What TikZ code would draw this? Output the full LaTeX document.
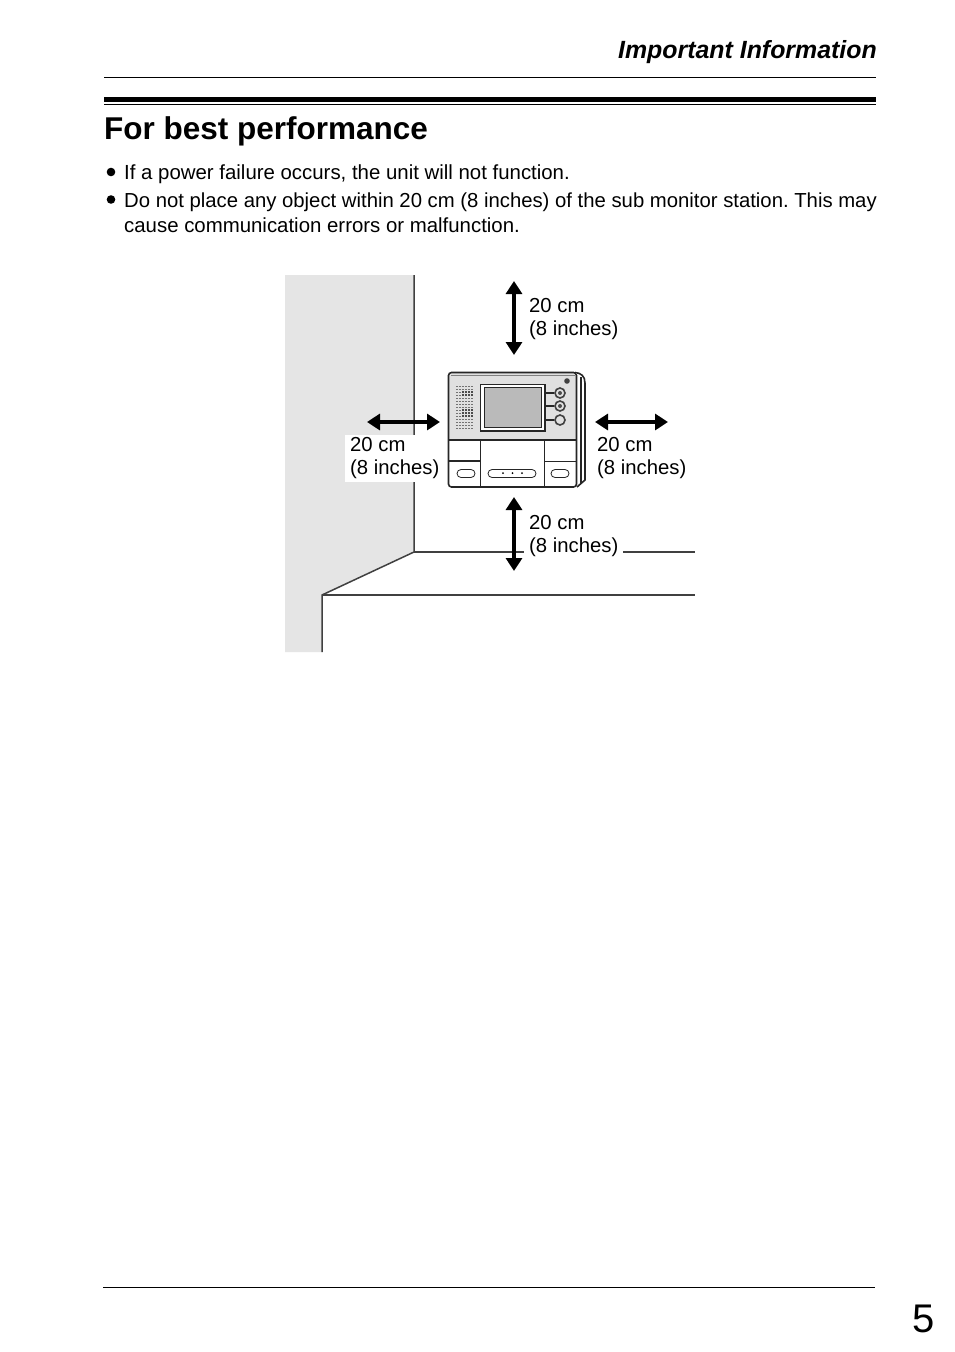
\documentclass[tikz,border=0pt]{standalone}
\usepackage{fontspec}
\setmainfont{Liberation Sans}
\usetikzlibrary{arrows.meta}
\begin{document}
\frenchspacing
\begin{tikzpicture}
	[x=1pt,y=-1pt,
	 bodytext/.style={anchor=base west,inner sep=0pt,font=\fontsize{20.4}{23}\selectfont},
	 dimlabel/.style={anchor=north west,inner sep=0pt,align=left,font=\fontsize{20.3}{23}\selectfont},
	 dimarrow/.style={line width=3.2pt,{Triangle[length=13pt,width=16pt]}-{Triangle[length=13pt,width=16pt]}},
	 wallline/.style={line width=1.5pt,draw=black!75},
	 unitline/.style={line width=0.8pt,draw=black!85}]
\useasboundingbox (0,0) rectangle (954,1352);
\fill[white] (0,0) rectangle (954,1352);
% page head
\node[anchor=base east,inner sep=0pt,font=\fontsize{24.9}{28}\selectfont\bfseries\itshape] (head) at (877,58) {Important Information};
\draw[line width=1pt] (104,77.5) -- (876,77.5);
\fill (104,97) rectangle (876,102);
\draw[line width=1pt] (104,104.5) -- (876,104.5);
\node[anchor=base west,inner sep=0pt,font=\fontsize{31.5}{36}\selectfont\bfseries] (title) at (104,139) {For best performance};
% bullets
\fill (111,172) circle (4.3) (111,199.5) circle (4.3);
\node[bodytext] (b1) at (124,179) {If a power failure occurs, the unit will not function.};
\node[bodytext,font=\fontsize{20.3}{23}\selectfont] (b2) at (124,207) {Do not place any object within 20 cm (8 inches) of the sub monitor station. This may};
\node[bodytext] (b3) at (124,232) {cause communication errors or malfunction.};
% wall and floor
\fill[black!10] (285,275) -- (414,275) -- (414,552) -- (322,595) -- (322,652) -- (285,652) -- cycle;
\draw[wallline] (414,275) -- (414,552) -- (322,595) -- (322,652);
\draw[wallline] (322,595) -- (695,595);
\draw[wallline,line width=1.2pt] (414,552) -- (524,552);
\draw[wallline,line width=1.2pt] (623,552) -- (695,552);
\fill[white] (345,435) rectangle (440,482);
% sub monitor station
\draw[unitline,line width=1.6pt,fill=white] (575,372.5) .. controls (581,373) and (585,376) .. (585,383) -- (585,480) -- (577,487);
\draw[unitline,line width=1.2pt] (581,377) -- (581,483);
\fill[black!12] (449,373) rectangle (576.5,440);
\draw[unitline,line width=1.6pt,rounded corners=3pt] (448.5,372.5) rectangle (576.5,487);
\draw[black!50,line width=0.8pt] (451,375) -- (575,375);
\draw[unitline,line width=1.2pt] (448.5,440) -- (576.5,440);
\draw[unitline,line width=0.7pt] (480.5,440) -- (480.5,487) (544.5,440) -- (544.5,487);
\draw[unitline,line width=1.4pt] (448.5,461) -- (480.5,461);
\draw[unitline,line width=0.7pt] (544.5,461) -- (576.5,461);
\draw[unitline,line width=1.3pt,fill=white] (480.5,384.5) rectangle (545,431);
\draw[unitline,line width=1pt,fill=black!27] (484.5,387.5) rectangle (541.5,427.5);
% speaker holes
\foreach \y in {386,389,...,428}
\draw[black!55,line width=1pt,dash pattern=on 1.5pt off 1.5pt] (456,\y) -- (473,\y);
\foreach \y in {392,395,410,413,416}
\draw[black!70,line width=1.6pt,dash pattern=on 2pt off 1pt] (462,\y) -- (473,\y);
% buttons
\foreach \y in {393,406,420}
{\draw[unitline,line width=1.2pt] (545,\y) -- (554,\y);
\draw[black!75,line width=1.6pt,fill=black!12] (560,\y) circle (5);}
\fill[black!70] (560,393) circle (2) (560,406) circle (2);
\fill[black!75] (567,381) circle (2.8);
\draw[unitline,rounded corners=4pt] (457,469.5) rectangle (475,477.5);
\draw[unitline,rounded corners=4pt] (551,469.5) rectangle (569,477.5);
\draw[unitline,rounded corners=4pt] (488,469.5) rectangle (536,477.5);
\foreach \x in {503,512.5,522}
\fill (\x,473) circle (1);
% clearances
\coordinate (topa) at (514,281);
\coordinate (topb) at (514,355);
\coordinate (bota) at (514,497);
\coordinate (botb) at (514,571);
\coordinate (lefta) at (367,422);
\coordinate (leftb) at (440,422);
\coordinate (righta) at (595,422);
\coordinate (rightb) at (668,422);
\foreach \a/\b in {topa/topb,bota/botb,lefta/leftb,righta/rightb}
\draw[dimarrow] (\a) -- (\b);
\node[dimlabel] (ltop) at (529,298) {20 cm\\(8 inches)};
\node[dimlabel] (lleft) at (350,437.5) {20 cm\\(8 inches)};
\node[dimlabel] (lright) at (597,437.5) {20 cm\\(8 inches)};
\node[dimlabel] (lbot) at (529,515) {20 cm\\(8 inches)};
% page foot
\draw[line width=1pt] (103,1287.5) -- (875,1287.5);
\node[anchor=base east,inner sep=0pt,font=\fontsize{40}{44}\selectfont] (pageno) at (935,1332) {5};
\end{tikzpicture}
\end{document}
